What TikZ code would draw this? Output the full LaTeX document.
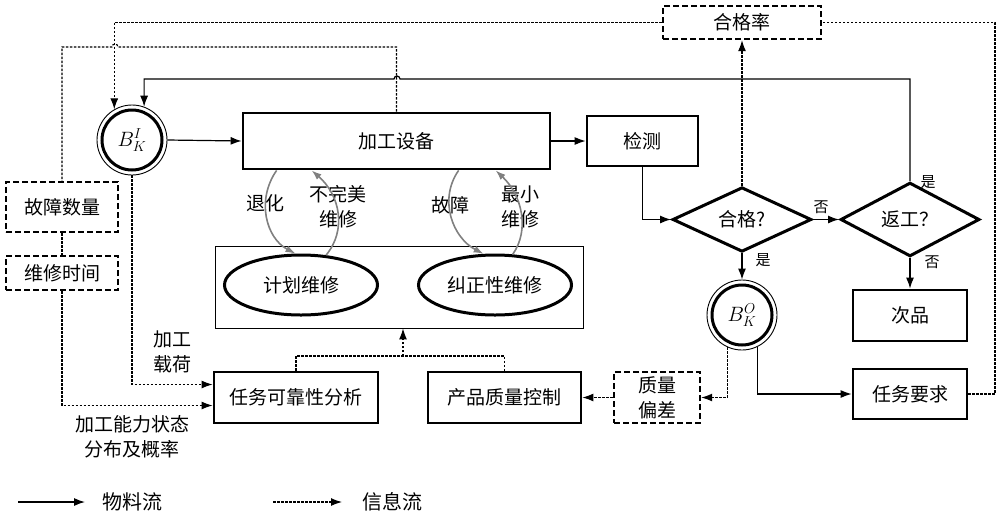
\documentclass[tikz,border=0pt]{standalone}
\usepackage{fontspec}
\usepackage{tikz}
\usetikzlibrary{arrows.meta,shapes.geometric}
\newfontfamily\cjk{Noto Sans CJK SC}

\begin{document}
\begin{tikzpicture}[x=1pt,y=-1pt,
   every node/.style={font=\cjk\fontsize{19}{25}\selectfont,inner sep=0pt,align=center},
   box/.style={draw,line width=2.8pt},
   infobox/.style={draw,line width=2.4pt,dash pattern=on 6pt off 3pt},
   buffer/.style={circle,draw,line width=0.9pt,minimum size=70pt},
   bufin/.style={circle,draw,line width=3pt,minimum size=60pt,font=\fontsize{21}{23}\selectfont},
   dec/.style={diamond,draw,line width=3pt,minimum width=139pt,minimum height=57pt},
   small/.style={font=\cjk\fontsize{15}{17}\selectfont},
   flow/.style={line width=1.2pt,-{Latex[length=11pt,width=8pt]}},
   info/.style={line width=1.1pt,dash pattern=on 2.5pt off 1.5pt},
   infoarrow/.style={info,-{Latex[length=11pt,width=8pt]}},
   back/.style={draw=gray,line width=1.6pt,-{Latex[length=10pt,width=7pt]}}]
   \useasboundingbox (0,0) rectangle (1000,515);

   \node[buffer] (BI) at (132,140) {};
   \node[bufin] (BIin) at (BI) {$B_K^I$};
   \node[box,minimum width=307pt,minimum height=56pt] (equip) at (396.5,141) {加工设备};
   \node[box,minimum width=111pt,minimum height=50pt] (check) at (642.5,141) {检测};
   \node[dec] (pass) at (742,219.5) {合格?};
   \node[dec] (rework) at (910,219.5) {返工？};
   \node[infobox,minimum width=158pt,minimum height=33pt] (rate) at (742,22.5) {合格率};
   \node[box,minimum width=114pt,minimum height=51pt] (reject) at (910,315.5) {次品};
   \node[box,minimum width=114pt,minimum height=50pt] (req) at (910,394) {任务要求};
   \node[buffer] (BO) at (742,315) {};
   \node[bufin] (BOin) at (BO) {$B_K^O$};
   \node[infobox,minimum width=86pt,minimum height=51pt] (qdev) at (657,397.5) {质量\\偏差};
   \node[box,minimum width=153pt,minimum height=51pt] (qc) at (504.5,397.5) {产品质量控制};
   \node[box,minimum width=164pt,minimum height=51pt] (task) at (296,397.5) {任务可靠性分析};
   \node[draw,line width=0.9pt,minimum width=368pt,minimum height=82pt] (maint) at (399,287) {};
   \node[ellipse,draw,line width=3pt,minimum width=153pt,minimum height=60pt] (plan) at (301,285) {计划维修};
   \node[ellipse,draw,line width=3pt,minimum width=153pt,minimum height=60pt] (corr) at (495,285) {纠正性维修};
   \node[infobox,minimum width=112pt,minimum height=50pt] (fault) at (62,207) {故障数量};
   \node[infobox,minimum width=112pt,minimum height=34pt] (mtime) at (62,273) {维修时间};

   % labels
   \node (load) at (172,352) {加工\\载荷};
   \node (cap) at (132,437) {加工能力状态\\分布及概率};
   \node[small] (yes1) at (763,260) {是};
   \node[small] (no1) at (821,207) {否};
   \node[small] (yes2) at (928,182) {是};
   \node[small] (no2) at (932,262) {否};
   \node (degr) at (265,203) {退化};
   \node (imperf) at (338,207) {不完美\\维修};
   \node (fail) at (450,205) {故障};
   \node (minrep) at (520,207) {最小\\维修};

   % material flow
   \draw[flow] (BI.east) -- (equip.west);
   \draw[flow] (equip) -- (check);
   \draw[flow] (check.south) |- (pass.west);
   \draw[flow] (pass.east) -- (rework.west);
   \draw[flow] (rework.south) -- (reject.north);
   \draw[flow] (pass.south) -- (BO.north);
   \draw[flow] (BO.296) |- (req.west);
   \draw[flow] (rework.north) |- (400,79) arc[start angle=0,end angle=180,radius=3pt] -| (BI.70);

   % information flow
   \coordinate (ne) at (995,22.5);
   \coordinate (join) at (403,356);
   \draw[infoarrow] (pass.north) -- (rate.south);
   \draw[info] (req.east) -| (ne) -- (rate.east);
   \draw[infoarrow] (rate.west) -| (BI.120);
   \draw[info] (equip.north) |- (118,47) arc[start angle=0,end angle=180,radius=3pt] -| (fault.north);
   \draw[info] (fault.south) -- (mtime.north);
   \draw[infoarrow] (BI.south) |- ([yshift=13pt]task.west);
   \draw[infoarrow] (mtime.south) |- ([yshift=-8pt]task.west);
   \draw[info] (task.north) |- (join) -| (qc.north);
   \draw[infoarrow] (join) -- (join |- maint.south);
   \draw[infoarrow] (qdev.west) -- (qc.east);
   \draw[infoarrow] (BO.246) |- (qdev.east);

   % maintenance loops
   \draw[back] ([xshift=35pt]equip.south west) .. controls (256,200) and (266,238) .. (plan.100);
   \draw[back] (plan.50) .. controls (347,230) and (340,195) .. ([xshift=70pt]equip.south west);
   \draw[back] ([xshift=217pt]equip.south west) .. controls (438,200) and (453,238) .. (corr.110);
   \draw[back] (corr.60) .. controls (530,230) and (522,195) .. ([xshift=254pt]equip.south west);

   % legend
   \begin{scope}[every node/.style={font=\cjk\fontsize{20}{22}\selectfont}]
      \coordinate (m0) at (18,502);
      \coordinate (m1) at (85,502);
      \coordinate (i0) at (273,502);
      \coordinate (i1) at (342,502);
      \node (mat) at (132,502) {物料流};
      \node (inf) at (392,502) {信息流};
      \draw[flow] (m0) -- (m1);
      \draw[infoarrow] (i0) -- (i1);
   \end{scope}
\end{tikzpicture}
\end{document}
